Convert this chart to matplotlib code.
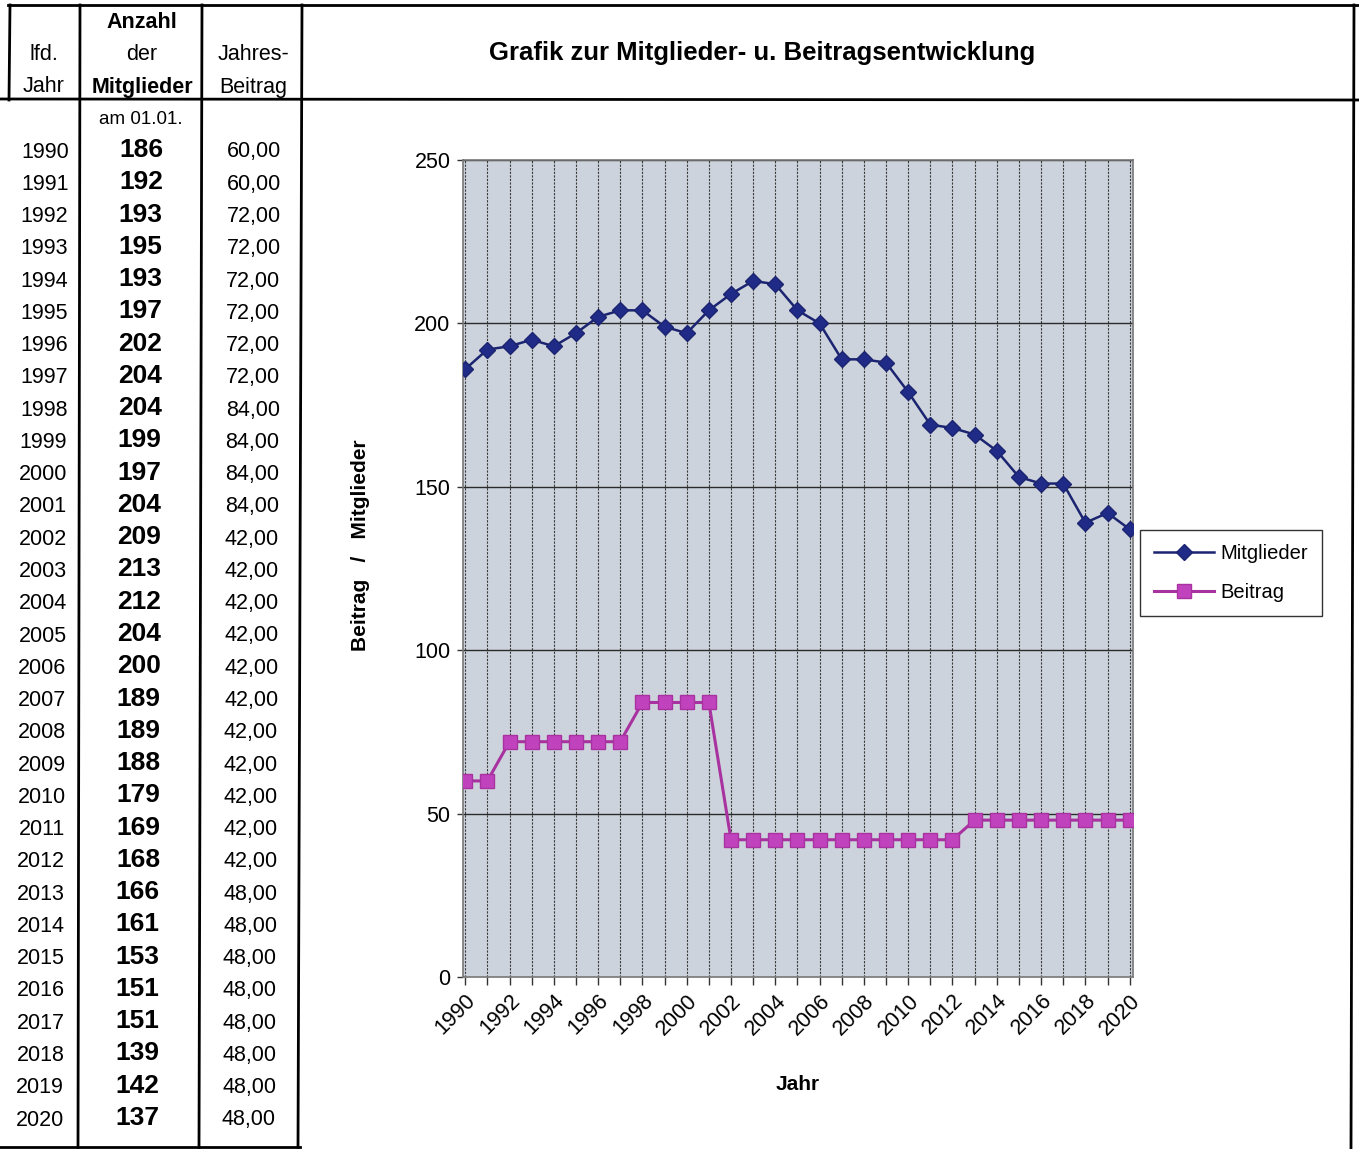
import numpy as np
import matplotlib.pyplot as plt

plt.rcParams['font.family'] = ['Liberation Sans', 'DejaVu Sans']

# Daten aus der Tabelle
jahre = list(range(1990, 2021))
mitglieder = [186, 192, 193, 195, 193, 197, 202, 204, 204, 199, 197, 204, 209, 213, 212,
              204, 200, 189, 189, 188, 179, 169, 168, 166, 161, 153, 151, 151, 139, 142, 137]
beitrag = [60, 60, 72, 72, 72, 72, 72, 72, 84, 84, 84, 84,
           42, 42, 42, 42, 42, 42, 42, 42, 42, 42, 42,
           48, 48, 48, 48, 48, 48, 48, 48]
xticks_lab = list(range(1990, 2021, 2))
yticks = [0, 50, 100, 150, 200, 250]

W, H = 1359, 1149
fig = plt.figure(figsize=(W / 100, H / 100), dpi=100)

# Tabelle / Rahmen (Pixel-Koordinaten)
tab = fig.add_axes([0, 0, 1, 1])
tab.set_xlim(0, W)
tab.set_ylim(H, 0)
tab.axis('off')

lw = 2.0
# Rahmenlinien
tab.plot([8, W], [5, 5], color='black', lw=lw)
tab.plot([0, W], [99, 100], color='black', lw=lw)
tab.plot([10, 9], [5, 100], color='black', lw=lw)
for x0, x1 in [(80, 78), (202, 199), (302, 298)]:
    tab.plot([x0, x1], [5, H], color='black', lw=lw)
tab.plot([1354, 1351], [5, H], color='black', lw=lw)
tab.plot([0, 300], [1147, 1147], color='black', lw=lw)

# Kopfzeile
fs = 15.5
tab.text(44, 55, 'lfd.', ha='center', va='center', fontsize=fs)
tab.text(44, 87, 'Jahr', ha='center', va='center', fontsize=fs)
tab.text(142, 22, 'Anzahl', ha='center', va='center', fontsize=fs, fontweight='bold')
tab.text(142, 55, 'der', ha='center', va='center', fontsize=fs)
tab.text(142, 87, 'Mitglieder', ha='center', va='center', fontsize=fs, fontweight='bold')
tab.text(253, 55, 'Jahres-', ha='center', va='center', fontsize=fs)
tab.text(253, 87, 'Beitrag', ha='center', va='center', fontsize=fs)
tab.text(141, 120, 'am 01.01.', ha='center', va='center', fontsize=13.5)
tab.text(762, 53, 'Grafik zur Mitglieder- u. Beitragsentwicklung', ha='center', va='center',
         fontsize=18.5, fontweight='bold')

n = len(jahre)
for i, (j, m, b) in enumerate(zip(jahre, mitglieder, beitrag)):
    y = 152 + i * (1120 - 152) / (n - 1)
    s = i / (n - 1)
    tab.text(45 - 5 * s, y, str(j), ha='center', va='center', fontsize=fs)
    tab.text(141 - 4 * s, y - 2, str(m), ha='center', va='center', fontsize=19, fontweight='bold')
    tab.text(254 - 5 * s, y, f'{b:.2f}'.replace('.', ','), ha='center', va='center', fontsize=fs)

# Diagramm
ax = fig.add_axes([463 / W, 1 - 977 / H, (1133 - 463) / W, (977 - 160) / H])
ax.set_facecolor('#cdd3dc')
ax.plot(jahre, mitglieder, color='#1b2470', lw=1.8, marker='D', markersize=8.5,
        markerfacecolor='#1f2b86', markeredgecolor='#1b2470', label='Mitglieder', zorder=3)
ax.plot(jahre, beitrag, color='#a8329f', lw=2.2, marker='s', markersize=10,
        markerfacecolor='#c043bd', markeredgecolor='#a8329f', label='Beitrag', zorder=3)

ax.set_xlim(1989.9, 2020.15)
ax.set_ylim(0, 250)
ax.set_yticks(yticks)
ax.set_xticks(jahre, minor=True)
ax.set_xticks(xticks_lab)
ax.set_xticklabels([str(x) for x in xticks_lab], rotation=45, ha='right',
                   rotation_mode='anchor', fontsize=15.5)
ax.tick_params(axis='x', which='both', direction='out', length=6, width=1, color='#333333')
ax.tick_params(axis='y', direction='out', length=4, width=1, color='#333333', labelsize=15.5, pad=5)
for x in jahre:
    ax.axvline(x, color='#3a3a3a', lw=0.8, ls=(0, (2, 1.2)), zorder=1)
for y in yticks[1:]:
    ax.axhline(y, color='#2a2a2a', lw=1.0, zorder=1)
for sp in ax.spines.values():
    sp.set_color('#777777')
    sp.set_linewidth(1.2)

ax.set_xlabel('Jahr', fontsize=15, fontweight='bold', labelpad=26)
ax.set_ylabel('Beitrag   /   Mitglieder', fontsize=15, fontweight='bold')
ax.yaxis.set_label_coords(-0.139, 0.529)

leg = fig.legend(loc='center', bbox_to_anchor=(1231 / W, 1 - 573 / H), fontsize=14.5,
                 handlelength=3.0, handletextpad=0.3, labelspacing=1.0, borderpad=0.7,
                 fancybox=False, edgecolor='#333333', framealpha=1)
leg.get_frame().set_linewidth(1.0)

fig.savefig('out.png', dpi=100, facecolor='white')
